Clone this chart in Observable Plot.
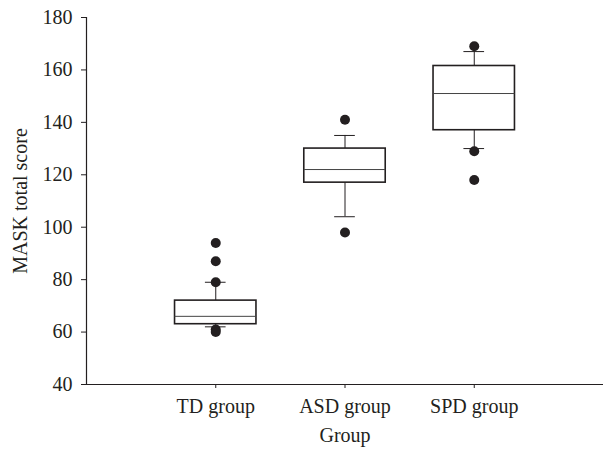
<!DOCTYPE html>
<html>
<head>
<meta charset="utf-8">
<script src="https://cdn.jsdelivr.net/npm/d3@7"></script>
<script src="https://cdn.jsdelivr.net/npm/@observablehq/plot@0.6"></script>
<style>
  html, body { margin: 0; padding: 0; background: #fff; }
</style>
</head>
<body>
<div id="chart"></div>
<script>
const groups = ["TD group", "ASD group", "SPD group"];
const whiskerLow = [62, 104, 130];
const q1 = [63, 117, 137];
const median = [66, 122, 151];
const q3 = [72, 130, 161.5];
const whiskerHigh = [79, 135, 167];
const outlierGroup = ["TD group", "TD group", "TD group", "TD group", "TD group", "ASD group", "ASD group", "SPD group", "SPD group", "SPD group"];
const outlierValue = [94, 87, 79, 61, 60, 141, 98, 169, 129, 118];
const yTicks = [40, 60, 80, 100, 120, 140, 160, 180];

const boxes = groups.map((g, i) => ({
  g, pos: i + 1, lo: whiskerLow[i], q1: q1[i], med: median[i], q3: q3[i], hi: whiskerHigh[i]
}));
const outliers = outlierValue.map((v, i) => ({ pos: groups.indexOf(outlierGroup[i]) + 1, v }));

const ink = "#231f20";
const halfBox = 0.315;
const halfCap = 0.08;

const chart = Plot.plot({
  width: 607,
  height: 450,
  marginLeft: 86,
  marginRight: 4,
  marginTop: 17,
  marginBottom: 66,
  style: { fontFamily: "'Liberation Serif', serif", fontSize: "20px", color: ink, background: "#fff" },
  x: { domain: [0, 4] },
  y: { domain: [40, 180] },
  marks: [
    Plot.axisX({ ticks: [1, 2, 3], tickFormat: d => groups[d - 1], tickSize: 4, tickPadding: 10, fontSize: 20, label: "Group", labelArrow: "none", labelAnchor: "center", labelOffset: 57, stroke: ink, fill: ink }),
    Plot.axisY({ ticks: yTicks, tickSize: 5, tickPadding: 9, fontSize: 20, label: "MASK total score", labelArrow: "none", labelAnchor: "center", labelOffset: 74, stroke: ink, fill: ink }),
    Plot.ruleY([40], { stroke: ink, strokeWidth: 1.2 }),
    Plot.ruleX([0], { stroke: ink, strokeWidth: 1.2 }),
    // whiskers
    Plot.ruleX(boxes, { x: "pos", y1: "q3", y2: "hi", stroke: ink, strokeWidth: 1 }),
    Plot.ruleX(boxes, { x: "pos", y1: "lo", y2: "q1", stroke: ink, strokeWidth: 1 }),
    Plot.ruleY(boxes, { y: "hi", x1: d => d.pos - halfCap, x2: d => d.pos + halfCap, stroke: ink, strokeWidth: 1 }),
    Plot.ruleY(boxes, { y: "lo", x1: d => d.pos - halfCap, x2: d => d.pos + halfCap, stroke: ink, strokeWidth: 1 }),
    // boxes
    Plot.rect(boxes, { x1: d => d.pos - halfBox, x2: d => d.pos + halfBox, y1: "q1", y2: "q3", fill: "#fff", stroke: ink, strokeWidth: 1.6 }),
    Plot.ruleY(boxes, { y: "med", x1: d => d.pos - halfBox, x2: d => d.pos + halfBox, stroke: "#444", strokeWidth: 1 }),
    // outliers
    Plot.dot(outliers, { x: "pos", y: "v", r: 5, fill: ink, stroke: "none" })
  ]
});
document.getElementById("chart").appendChild(chart);
</script>
</body>
</html>
